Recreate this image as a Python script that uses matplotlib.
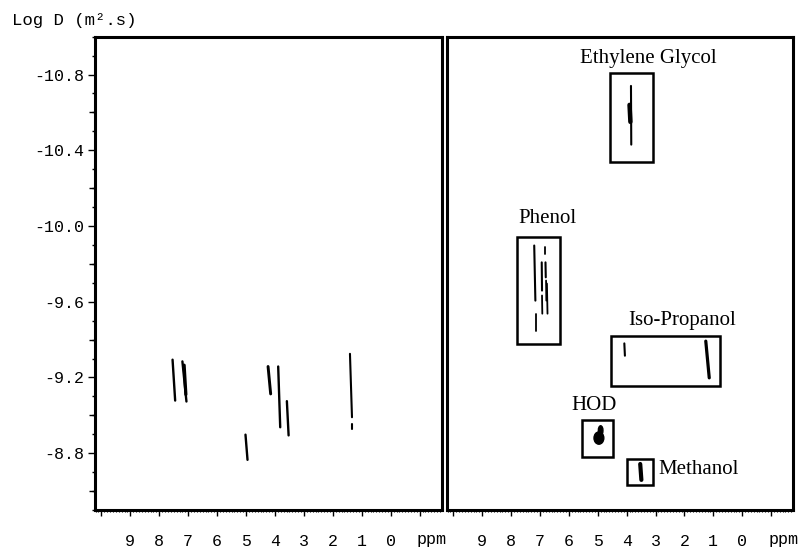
import numpy as np
import matplotlib
matplotlib.use("Agg")
import matplotlib.pyplot as plt
from matplotlib.patches import Rectangle, Ellipse
from matplotlib.ticker import MultipleLocator, FixedLocator

mono = "Liberation Mono"
serif = "Liberation Serif"

# left panel (mixture): peak strokes as (ppm_top, logD_top, ppm_bottom, logD_bottom, width)
mix_peaks = [
    (7.54, -9.294, 7.45, -9.078, 1.7),
    (7.20, -9.285, 7.06, -9.073, 1.7),
    (7.14, -9.265, 7.08, -9.110, 2.3),
    (5.02, -8.898, 4.95, -8.765, 1.7),
    (4.24, -9.258, 4.15, -9.113, 2.1),
    (3.89, -9.258, 3.82, -8.937, 1.7),
    (3.59, -9.075, 3.53, -8.894, 1.7),
    (1.41, -9.325, 1.34, -8.990, 1.5),
    (1.34, -8.955, 1.34, -8.930, 1.5),
]

# right panel (separated components)
comp_peaks = [
    # ethylene glycol
    (3.85, -10.74, 3.84, -10.43, 1.5),
    (3.90, -10.64, 3.87, -10.55, 3.2),
    # phenol
    (7.20, -9.897, 7.16, -9.606, 1.5),
    (7.14, -9.536, 7.14, -9.448, 1.3),
    (6.94, -9.808, 6.93, -9.659, 1.5),
    (6.93, -9.633, 6.92, -9.537, 1.3),
    (6.83, -9.888, 6.83, -9.854, 1.3),
    (6.81, -9.808, 6.80, -9.729, 1.5),
    (6.79, -9.712, 6.78, -9.606, 1.3),
    (6.76, -9.696, 6.74, -9.537, 1.3),
    # iso-propanol
    (4.08, -9.380, 4.06, -9.315, 1.5),
    (1.26, -9.392, 1.14, -9.198, 2.3),
    # methanol
    (3.53, -8.743, 3.49, -8.659, 3.0),
]

# component boxes: (ppm_left, ppm_right), (logD_top, logD_bottom)
box_names = ["Ethylene Glycol", "Phenol", "Iso-Propanol", "HOD", "Methanol"]
box_ppm = [(4.58, 3.10), (7.79, 6.31), (4.55, 0.77), (5.56, 4.46), (4.00, 3.10)]
box_logd = [(-10.81, -10.34), (-9.944, -9.377), (-9.421, -9.157), (-8.976, -8.782), (-8.770, -8.633)]

# label anchors (ppm, logD)
label_ppm = [3.26, 6.74, 2.07, 5.14, 2.91]
label_logd = [-10.885, -10.038, -9.50, -9.052, -8.712]
label_ha = ["center", "center", "center", "center", "left"]

hod_center = (4.96, -8.880)

xticks = np.arange(10, -2, -1)
xlabels = [str(v) if 0 <= v <= 9 else "" for v in xticks]

fig = plt.figure(figsize=(8.08, 5.51), dpi=100)
ax1 = fig.add_axes([95/808, 41/551, 346.7/808, 473.3/551])
ax2 = fig.add_axes([447/808, 41/551, 346/808, 473.3/551])

for ax in (ax1, ax2):
    ax.set_xlim(10.22, -1.76)
    ax.set_ylim(-8.5, -11.0)
    for s in ax.spines.values():
        s.set_linewidth(2.2)
    ax.xaxis.set_major_locator(FixedLocator(xticks))
    ax.xaxis.set_minor_locator(MultipleLocator(0.1))
    ax.set_xticklabels(xlabels, fontfamily=mono, fontsize=12)
    ax.tick_params(axis="x", which="major", direction="out", length=4, width=1, pad=13)
    ax.tick_params(axis="x", which="minor", direction="out", length=1.6, width=0.8)
    ax.annotate("ppm", xy=(-1.42, 0), xycoords=("data", "axes fraction"),
                xytext=(0, -21.5), textcoords="offset points",
                ha="center", va="center", fontfamily=mono, fontsize=12)

# y axis on left panel only
ax1.yaxis.set_major_locator(FixedLocator([-10.8, -10.4, -10.0, -9.6, -9.2, -8.8]))
ax1.yaxis.set_minor_locator(MultipleLocator(0.1))
ax1.set_yticklabels(["-10.8", "-10.4", "-10.0", "-9.6", "-9.2", "-8.8"],
                    fontfamily=mono, fontsize=12)
ax1.tick_params(axis="y", which="major", direction="out", length=5, width=1, pad=3)
ax1.tick_params(axis="y", which="minor", direction="out", length=2, width=1)
sec = ax1.secondary_yaxis("left")
sec.spines["left"].set_visible(False)
sec.yaxis.set_major_locator(FixedLocator([-10.6, -10.2, -9.8, -9.4, -9.0, -8.6]))
sec.tick_params(axis="y", direction="out", length=4, width=1, labelleft=False)
ax2.tick_params(axis="y", which="both", left=False, labelleft=False)

for x0, y0, x1, y1, w in mix_peaks:
    ax1.plot([x0, x1], [y0, y1], color="black", lw=w, solid_capstyle="round")

for x0, y0, x1, y1, w in comp_peaks:
    ax2.plot([x0, x1], [y0, y1], color="black", lw=w, solid_capstyle="round")

# HOD blob
ax2.add_patch(Ellipse(hod_center, 0.34, 0.065, color="black"))
ax2.add_patch(Ellipse((hod_center[0] - 0.06, hod_center[1] - 0.04), 0.16, 0.05, color="black"))

for (xl, xr), (yt, yb) in zip(box_ppm, box_logd):
    ax2.add_patch(Rectangle((xr, yt), xl - xr, yb - yt, fill=False, lw=1.8, ec="black"))

for name, lx, ly, ha in zip(box_names, label_ppm, label_logd, label_ha):
    ax2.text(lx, ly, name, ha=ha, va="center", fontfamily=serif, fontsize=15)

fig.text(12/808, 1 - 21/551, "Log D (m\u00b2.s)", ha="left", va="center",
         fontfamily=mono, fontsize=12.5)

fig.savefig("out.png", dpi=100)
